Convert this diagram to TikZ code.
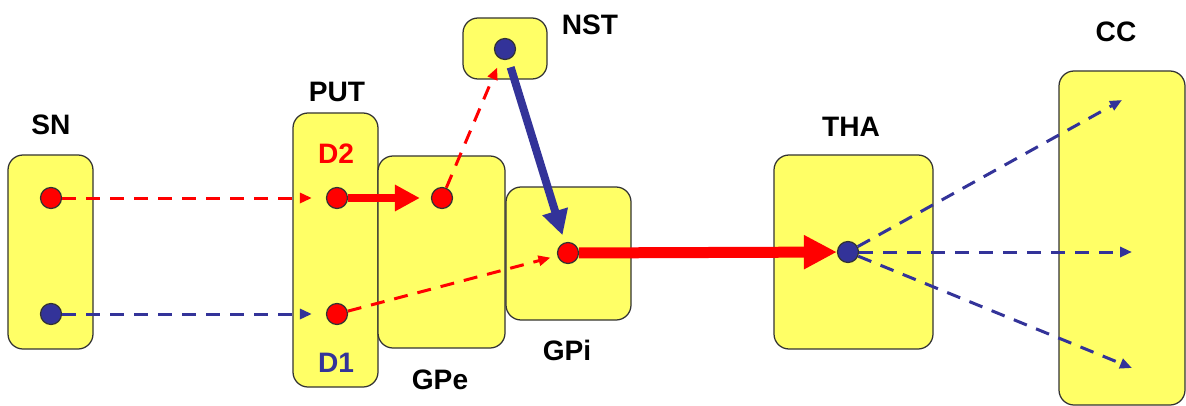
\documentclass[tikz,border=0pt]{standalone}
\usepackage{fontspec}
\setmainfont{Liberation Sans}
\usetikzlibrary{arrows.meta}
\definecolor{boxyellow}{RGB}{255,255,102}
\definecolor{darkblue}{RGB}{51,51,153}
\definecolor{edgegray}{RGB}{51,51,51}

\begin{document}
\begin{tikzpicture}[x=0.2mm, y=-0.2mm,
    box/.style={draw=edgegray, fill=boxyellow, rounded corners=3mm, line width=0.25mm, inner sep=0pt, outer sep=0pt},
    dot/.style={circle, draw=edgegray, line width=0.25mm, minimum size=4.2mm, inner sep=0pt},
    lbl/.style={font=\fontsize{16}{19}\selectfont\bfseries},
    dasharrow/.style={-{Triangle[length=2.4mm, width=2mm]}, line width=0.6mm, dash pattern=on 2.8mm off 2mm},
    fatarrow/.style={-{Triangle[length=5mm, width=5mm]}, line width=1.6mm},
    bigarrow/.style={-{Triangle[length=6.6mm, width=6.4mm]}, line width=2.2mm}]
    \useasboundingbox (0,0) rectangle (1186,406);

    \node[box, minimum width=17mm, minimum height=38.8mm] (sn) at (50.5,252) {};
    \node[box, minimum width=17mm, minimum height=54.8mm] (put) at (335.5,250) {};
    \node[box, minimum width=25.4mm, minimum height=38.4mm] (gpe) at (441.5,252) {};
    \node[box, minimum width=16.8mm, minimum height=12.2mm] (nst) at (505,48.5) {};
    \node[box, minimum width=25mm, minimum height=26.6mm] (gpi) at (568.5,253.5) {};
    \node[box, minimum width=31.8mm, minimum height=38.8mm] (tha) at (853.5,252) {};
    \node[box, minimum width=25.2mm, minimum height=66.8mm] (cc) at (1122,238) {};

    \node[dot, fill=red] (snr) at (51,198) {};
    \node[dot, fill=darkblue] (snb) at (51,314) {};
    \node[dot, fill=red] (d2) at (337,198) {};
    \node[dot, fill=red] (d1) at (337,314) {};
    \node[dot, fill=red] (gpedot) at (442,198) {};
    \node[dot, fill=darkblue] (nstdot) at (505,49) {};
    \node[dot, fill=red] (gpidot) at (568,253) {};
    \node[dot, fill=darkblue] (thadot) at (848,252) {};

    \coordinate (cc1) at (1122,100);
    \coordinate (cc2) at (1132,252);
    \coordinate (cc3) at (1132,368);

    \node[lbl] (snlabel) at (51,125) {SN};
    \node[lbl] (putlabel) at (337,92) {PUT};
    \node[lbl, red] (d2label) at (336,154) {D2};
    \node[lbl, darkblue] (d1label) at (336,363) {D1};
    \node[lbl] (gpelabel) at (440,380) {GPe};
    \node[lbl] (nstlabel) at (590,25) {NST};
    \node[lbl] (gpilabel) at (567,350) {GPi};
    \node[lbl] (thalabel) at (851,127) {THA};
    \node[lbl] (cclabel) at (1116,32) {CC};

    \draw[red, dasharrow, shorten >=2.8mm] (snr) -- (d2);
    \draw[darkblue, dasharrow, shorten >=2.8mm] (snb) -- (d1);
    \draw[red, fatarrow, shorten >=2.2mm] (d2) -- (gpedot);
    \draw[red, dasharrow, shorten >=1.8mm] (gpedot) -- (nstdot);
    \draw[darkblue, fatarrow, shorten <=1.6mm, shorten >=1.5mm] (nstdot) -- (gpidot);
    \draw[red, dasharrow, shorten >=1.4mm] (d1) -- (gpidot);
    \draw[red, bigarrow] (gpidot) -- (thadot);
    \foreach \t in {cc1,cc2,cc3}
        \draw[darkblue, dasharrow] (thadot) -- (\t);
\end{tikzpicture}
\end{document}
